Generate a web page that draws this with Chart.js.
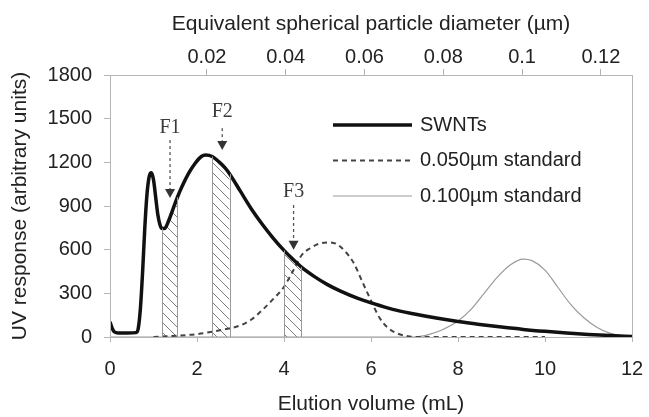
<!DOCTYPE html>
<html>
<head>
<meta charset="utf-8">
<script src="https://cdn.jsdelivr.net/npm/chart.js@4.4.1/dist/chart.umd.min.js"></script>
<style>
  html, body { margin: 0; padding: 0; background: #fff; }
</style>
</head>
<body>
<canvas id="chart" width="649" height="417"></canvas>
<script>
// --- data ---
const swntX = [0, 0.05, 0.1, 0.2, 0.4, 0.6, 0.65, 0.7, 0.75, 0.8, 0.85, 0.9, 0.95, 1.0, 1.05, 1.1, 1.15, 1.2, 1.25, 1.35, 1.45, 1.55, 1.65, 1.8, 1.95, 2.1, 2.2, 2.35, 2.5, 2.65, 2.75, 3.0, 3.25, 3.5, 3.75, 4.0, 4.2, 4.4, 4.7, 5.0, 5.3, 5.7, 6.0, 6.5, 7.0, 7.5, 8.0, 8.5, 9.0, 9.5, 10.0, 10.5, 11.0, 11.5, 12.0];
const swntY = [105, 60, 35, 28, 27, 30, 60, 200, 450, 750, 980, 1100, 1128, 1080, 960, 840, 770, 745, 745, 800, 880, 960, 1030, 1120, 1190, 1240, 1250, 1240, 1205, 1160, 1120, 1000, 880, 775, 680, 595, 535, 480, 415, 360, 315, 265, 235, 190, 158, 130, 106, 86, 68, 52, 39, 28, 18, 10, 4];

const std50X = [1.0, 1.5, 2.0, 2.5, 3.0, 3.25, 3.5, 3.75, 4.0, 4.2, 4.4, 4.6, 4.8, 5.0, 5.2, 5.4, 5.6, 5.8, 6.0, 6.2, 6.4, 6.6, 6.8, 7.0, 8.0, 9.0, 10.0];
const std50Y = [0, 8, 20, 45, 80, 120, 185, 260, 345, 450, 560, 610, 640, 650, 640, 590, 510, 380, 250, 130, 60, 25, 8, 0, 0, 0, 0];

const std100X = [0, 7.0, 7.3, 7.6, 8.0, 8.3, 8.6, 8.9, 9.2, 9.5, 9.7, 10.0, 10.3, 10.6, 10.9, 11.2, 11.5, 11.8, 12.0];
const std100Y = [0, 0, 15, 45, 110, 190, 300, 410, 495, 535, 525, 460, 340, 220, 130, 65, 25, 8, 3];

const seriesNames = ['SWNTs', '0.050µm standard', '0.100µm standard'];

// axis ranges and ticks
const volumeMin = 0, volumeMax = 12, volumeStep = 2;
const responseMin = 0, responseMax = 1800, responseStep = 300;
const diameterMin = -0.0046, diameterMax = 0.1279;
const diameterTicks = [0.02, 0.04, 0.06, 0.08, 0.1, 0.12];

// collected fractions (hatched bands) and their arrows
const fractionNames = ['F1', 'F2', 'F3'];
const fractionStart = [1.2, 2.35, 4.0];
const fractionEnd = [1.55, 2.75, 4.4];
const arrowX = [1.38, 2.58, 4.22];
const labelY = [1435, 1547, 998];
const arrowTopY = [1353, 1435, 907];
const arrowTipY = [955, 1284, 600];

// --- styles ---
const TEXT = '#222';
const AXIS = '#b5b5b5';
const FONT = 'Liberation Sans, Arial, sans-serif';

const canvas = document.getElementById('chart');
const ctx = canvas.getContext('2d');

function hatchPattern() {
    const tile = document.createElement('canvas');
    tile.width = 10; tile.height = 10;
    const g = tile.getContext('2d');
    g.strokeStyle = '#7c7c7c';
    g.lineWidth = 1;
    g.beginPath();
    g.moveTo(-1, -1); g.lineTo(11, 11);
    g.moveTo(-1, 9); g.lineTo(1, 11);
    g.moveTo(9, -1); g.lineTo(11, 1);
    g.stroke();
    return ctx.createPattern(tile, 'repeat');
}

const pts = (xs, ys) => xs.map((x, i) => ({ x: x, y: ys[i] }));
const swntPoints = pts(swntX, swntY);
const hatch = hatchPattern();

const hatchSets = fractionNames.map((name, i) => ({
    label: name,
    data: swntPoints.filter(p => p.x >= fractionStart[i] && p.x <= fractionEnd[i]),
    borderWidth: 0,
    borderColor: 'rgba(0,0,0,0)',
    backgroundColor: hatch,
    fill: 'origin',
    pointRadius: 0,
    cubicInterpolationMode: 'monotone',
    order: 10
}));

// horizontal axes: no extra room for overhanging tick labels
const noSidePadding = s => { s.paddingLeft = 0; s.paddingRight = 0; };

// --- extras: frame, hatch edges, arrows, F labels, legend ---
const extras = {
    id: 'extras',
    afterDatasetsDraw(chart) {
        const { ctx, chartArea: a, scales: { x, y } } = chart;
        ctx.save();
        // band edges
        ctx.strokeStyle = '#999';
        ctx.lineWidth = 1;
        fractionNames.forEach((n, i) => {
            [fractionStart[i], fractionEnd[i]].forEach(v => {
                const p = swntPoints.find(q => q.x === v);
                const px = Math.round(x.getPixelForValue(v)) + 0.5;
                ctx.beginPath();
                ctx.moveTo(px, y.getPixelForValue(0));
                ctx.lineTo(px, y.getPixelForValue(p.y));
                ctx.stroke();
            });
        });
        // arrows and labels
        fractionNames.forEach((n, i) => {
            const px = x.getPixelForValue(arrowX[i]);
            const top = y.getPixelForValue(arrowTopY[i]);
            const tip = y.getPixelForValue(arrowTipY[i]);
            ctx.strokeStyle = '#555';
            ctx.lineWidth = 1.3;
            ctx.setLineDash([3, 3]);
            ctx.beginPath();
            ctx.moveTo(px, top);
            ctx.lineTo(px, tip - 8);
            ctx.stroke();
            ctx.setLineDash([]);
            ctx.fillStyle = '#333';
            ctx.beginPath();
            ctx.moveTo(px - 5, tip - 9);
            ctx.lineTo(px + 5, tip - 9);
            ctx.lineTo(px, tip);
            ctx.closePath();
            ctx.fill();
            ctx.fillStyle = '#3a3a3a';
            ctx.font = '20px "Liberation Serif", "Times New Roman", serif';
            ctx.textAlign = 'center';
            ctx.textBaseline = 'middle';
            ctx.fillText(n, px, y.getPixelForValue(labelY[i]));
        });
        // frame around the plot
        ctx.strokeStyle = AXIS;
        ctx.lineWidth = 1;
        ctx.strokeRect(a.left + 0.5, a.top + 0.5, a.right - a.left, a.bottom - a.top);
        // legend
        const lx = a.left + 223, ly = a.top + 50, gap = 35.5;
        const looks = chart.data.datasets.slice(0, 3);
        looks.forEach((ds, i) => {
            const yy = ly + i * gap;
            ctx.strokeStyle = ds.borderColor;
            ctx.lineWidth = ds.borderWidth;
            ctx.setLineDash(ds.borderDash || []);
            ctx.beginPath();
            ctx.moveTo(lx, yy);
            ctx.lineTo(lx + 79, yy);
            ctx.stroke();
            ctx.setLineDash([]);
            ctx.fillStyle = TEXT;
            ctx.font = '20px ' + FONT;
            ctx.textAlign = 'left';
            ctx.textBaseline = 'middle';
            ctx.fillText(ds.label, lx + 87, yy);
        });
        ctx.restore();
    }
};

new Chart(ctx, {
    type: 'line',
    data: {
        datasets: [
            { label: seriesNames[0], data: swntPoints, borderColor: '#111', borderWidth: 3.5, pointRadius: 0, cubicInterpolationMode: 'monotone', order: 1 },
            { label: seriesNames[1], data: pts(std50X, std50Y), borderColor: '#444', borderWidth: 2, borderDash: [5, 4], pointRadius: 0, cubicInterpolationMode: 'monotone', order: 2 },
            { label: seriesNames[2], data: pts(std100X, std100Y), borderColor: '#9a9a9a', borderWidth: 1.2, pointRadius: 0, cubicInterpolationMode: 'monotone', order: 3 },
            ...hatchSets
        ]
    },
    options: {
        responsive: false,
        animation: false,
        layout: { padding: { left: 0, right: 17, top: 0, bottom: 0 } },
        plugins: { legend: { display: false }, tooltip: { enabled: false } },
        scales: {
            x: {
                type: 'linear', position: 'bottom',
                min: volumeMin, max: volumeMax,
                afterFit: s => { s.height = 80; noSidePadding(s); },
                ticks: { stepSize: volumeStep, color: TEXT, font: { family: FONT, size: 20 }, padding: 15, maxRotation: 0 },
                grid: { drawOnChartArea: false, tickLength: 5, color: AXIS },
                border: { color: AXIS },
                title: { display: true, text: 'Elution volume (mL)', color: TEXT, font: { family: FONT, size: 21 }, padding: { top: 0, bottom: 0 } }
            },
            x2: {
                type: 'linear', position: 'top',
                min: diameterMin, max: diameterMax,
                afterFit: s => { s.height = 75; noSidePadding(s); },
                afterBuildTicks: s => { s.ticks = diameterTicks.map(v => ({ value: v })); },
                ticks: { color: TEXT, font: { family: FONT, size: 20 }, padding: 0, maxRotation: 0, callback: v => String(v) },
                grid: { drawOnChartArea: false, tickLength: 6, color: AXIS },
                border: { color: AXIS },
                title: { display: true, text: 'Equivalent spherical particle diameter (µm)', color: TEXT, font: { family: FONT, size: 21 }, padding: { top: 12, bottom: 0 } }
            },
            y: {
                min: responseMin, max: responseMax,
                afterFit: s => { s.width = 110; },
                ticks: { stepSize: responseStep, color: TEXT, font: { family: FONT, size: 20 }, padding: 12, callback: v => String(v) },
                grid: { drawOnChartArea: false, tickLength: 6, color: AXIS },
                border: { color: AXIS },
                title: { display: true, text: 'UV response (arbitrary units)', color: TEXT, font: { family: FONT, size: 21 }, padding: { top: 8, bottom: 0 } }
            }
        }
    },
    plugins: [extras]
});
</script>
</body>
</html>
